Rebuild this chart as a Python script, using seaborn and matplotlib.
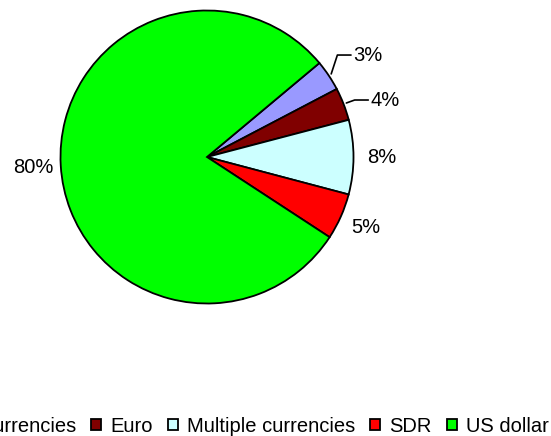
import numpy as np
import matplotlib
matplotlib.use("Agg")
import matplotlib.pyplot as plt
import seaborn as sns

# currency shares (%)
categories = ["Other currencies", "Euro", "Multiple currencies", "SDR", "US dollar"]
shares = [3.4, 3.6, 8.2, 5.1, 79.7]
colors = ["#9999FF", "#800000", "#CCFFFF", "#FF0000", "#00FF00"]

sns.set_theme(style="white")
plt.rcParams["font.family"] = ["Liberation Sans", "DejaVu Sans"]
plt.rcParams["text.color"] = "black"

fig = plt.figure(figsize=(5.51, 4.36), dpi=100)
# axes sized so the pie sits where the original has it
ax = fig.add_axes([60.5 / 551, (436 - 303.5) / 436, 293 / 551, 293 / 436])

wedges, _ = ax.pie(
    shares,
    colors=colors,
    startangle=39.9,
    counterclock=False,
    radius=1,
    wedgeprops={"edgecolor": "black", "linewidth": 1.3},
)
ax.set_xlim(-1, 1)
ax.set_ylim(-1, 1)
ax.set_aspect("equal")
ax.axis("off")

# small slices get pulled-out labels with leader lines
pulled = {"Other currencies": (0.995, 0.696), "Euro": (1.113, 0.389)}

for w, name, v in zip(wedges, categories, shares):
    mid = np.deg2rad((w.theta1 + w.theta2) / 2)
    txt = f"{v:.0f}%"
    if name in pulled:
        tx, ty = pulled[name]
        rx, ry = 1.02 * np.cos(mid), 1.02 * np.sin(mid)
        ax.plot([rx, tx - 0.105, tx - 0.012], [ry, ty, ty], color="black",
                lw=1.2, clip_on=False)
        ax.text(tx, ty, txt, ha="left", va="center", fontsize=14.5,
                color="black")
    else:
        ax.text(1.19 * np.cos(mid), 1.19 * np.sin(mid), txt, ha="center",
                va="center", fontsize=14.5, color="black")

fig.legend(
    wedges, categories,
    loc="center right",
    bbox_to_anchor=(549 / 551, 1 - 426 / 436),
    ncol=5,
    frameon=False,
    fontsize=14.5,
    labelcolor="black",
    handlelength=0.5,
    handleheight=0.5,
    handletextpad=0.45,
    columnspacing=0.75,
    borderpad=0,
    borderaxespad=0,
)

fig.savefig("out.png", dpi=100)
